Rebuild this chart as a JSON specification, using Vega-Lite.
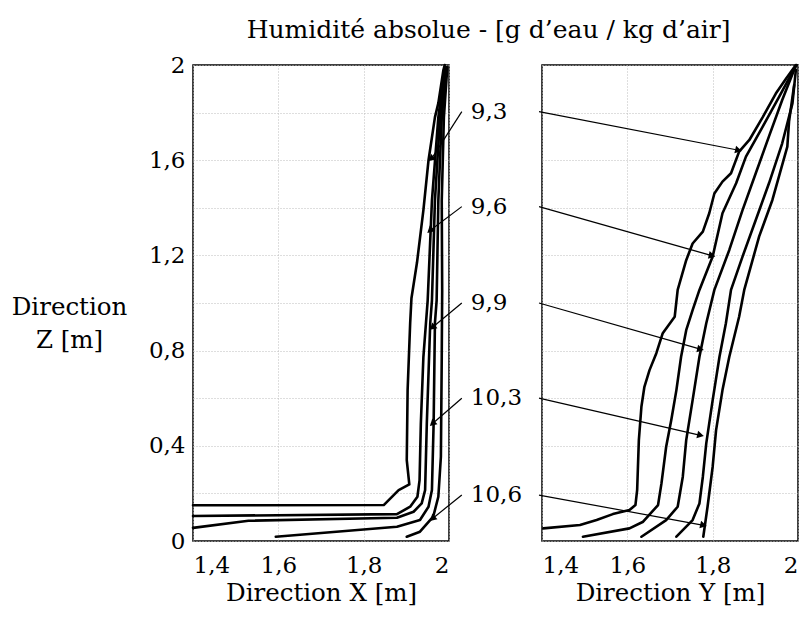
{
  "$schema": "https://vega.github.io/schema/vega-lite/v6.json",
  "padding": {"left": 10, "top": 18, "right": 0, "bottom": 5},
  "title": {"text": "Humidité absolue - [g d’eau / kg d’air]", "font": "DejaVu Serif", "fontSize": 25, "fontWeight": "normal", "color": "black", "anchor": "middle", "offset": 10, "dx": 84},
  "bounds": "flush",
  "spacing": 93,
  "config": {
    "font": "DejaVu Serif",
    "view": {"stroke": "black", "strokeWidth": 1.5},
    "axis": {
      "domain": false, "ticks": false,
      "labelFont": "DejaVu Serif", "labelFontSize": 23, "labelColor": "black",
      "titleFont": "DejaVu Serif", "titleFontSize": 24.5, "titleColor": "black", "titleFontWeight": "normal",
      "gridColor": "#bdbdbd", "gridDash": [1, 2], "gridWidth": 1
    }
  },
  "datasets": {
    "xc": [
      {"c": 1, "x": 1.400, "z": 0.150}, {"c": 1, "x": 1.847, "z": 0.151}, {"c": 1, "x": 1.882, "z": 0.214}, {"c": 1, "x": 1.907, "z": 0.238}, {"c": 1, "x": 1.901, "z": 0.34}, {"c": 1, "x": 1.903, "z": 0.634}, {"c": 1, "x": 1.909, "z": 0.916}, {"c": 1, "x": 1.912, "z": 1.02}, {"c": 1, "x": 1.925, "z": 1.17}, {"c": 1, "x": 1.940, "z": 1.39}, {"c": 1, "x": 1.952, "z": 1.60}, {"c": 1, "x": 1.967, "z": 1.78}, {"c": 1, "x": 1.975, "z": 1.84}, {"c": 1, "x": 1.987, "z": 1.98}, {"c": 1, "x": 1.990, "z": 2.0},
      {"c": 2, "x": 1.400, "z": 0.105}, {"c": 2, "x": 1.878, "z": 0.113}, {"c": 2, "x": 1.909, "z": 0.144}, {"c": 2, "x": 1.926, "z": 0.186}, {"c": 2, "x": 1.931, "z": 0.256}, {"c": 2, "x": 1.934, "z": 0.494}, {"c": 2, "x": 1.940, "z": 0.774}, {"c": 2, "x": 1.950, "z": 1.01}, {"c": 2, "x": 1.960, "z": 1.43}, {"c": 2, "x": 1.975, "z": 1.78}, {"c": 2, "x": 1.990, "z": 1.99},
      {"c": 3, "x": 1.400, "z": 0.055}, {"c": 3, "x": 1.530, "z": 0.085}, {"c": 3, "x": 1.878, "z": 0.098}, {"c": 3, "x": 1.917, "z": 0.123}, {"c": 3, "x": 1.936, "z": 0.158}, {"c": 3, "x": 1.944, "z": 0.214}, {"c": 3, "x": 1.948, "z": 0.494}, {"c": 3, "x": 1.956, "z": 0.915}, {"c": 3, "x": 1.960, "z": 1.01}, {"c": 3, "x": 1.967, "z": 1.43}, {"c": 3, "x": 1.979, "z": 1.78}, {"c": 3, "x": 1.992, "z": 1.99},
      {"c": 4, "x": 1.594, "z": 0.018}, {"c": 4, "x": 1.878, "z": 0.060}, {"c": 4, "x": 1.932, "z": 0.088}, {"c": 4, "x": 1.952, "z": 0.144}, {"c": 4, "x": 1.960, "z": 0.214}, {"c": 4, "x": 1.964, "z": 0.496}, {"c": 4, "x": 1.967, "z": 0.915}, {"c": 4, "x": 1.971, "z": 1.01}, {"c": 4, "x": 1.975, "z": 1.43}, {"c": 4, "x": 1.983, "z": 1.78}, {"c": 4, "x": 1.994, "z": 1.99},
      {"c": 5, "x": 1.901, "z": 0.018}, {"c": 5, "x": 1.932, "z": 0.039}, {"c": 5, "x": 1.963, "z": 0.102}, {"c": 5, "x": 1.975, "z": 0.186}, {"c": 5, "x": 1.981, "z": 0.354}, {"c": 5, "x": 1.983, "z": 0.774}, {"c": 5, "x": 1.984, "z": 1.05}, {"c": 5, "x": 1.983, "z": 1.43}, {"c": 5, "x": 1.988, "z": 1.78}, {"c": 5, "x": 1.996, "z": 1.99}
    ],
    "yc": [
      {"c": 1, "y": 1.403, "z": 0.053}, {"c": 1, "y": 1.489, "z": 0.067}, {"c": 1, "y": 1.528, "z": 0.088}, {"c": 1, "y": 1.566, "z": 0.113}, {"c": 1, "y": 1.605, "z": 0.130}, {"c": 1, "y": 1.619, "z": 0.151}, {"c": 1, "y": 1.623, "z": 0.214}, {"c": 1, "y": 1.627, "z": 0.424}, {"c": 1, "y": 1.633, "z": 0.564}, {"c": 1, "y": 1.640, "z": 0.648}, {"c": 1, "y": 1.652, "z": 0.718}, {"c": 1, "y": 1.668, "z": 0.789}, {"c": 1, "y": 1.683, "z": 0.873}, {"c": 1, "y": 1.711, "z": 0.942}, {"c": 1, "y": 1.718, "z": 1.055}, {"c": 1, "y": 1.738, "z": 1.18}, {"c": 1, "y": 1.753, "z": 1.25}, {"c": 1, "y": 1.777, "z": 1.30}, {"c": 1, "y": 1.792, "z": 1.377}, {"c": 1, "y": 1.804, "z": 1.46}, {"c": 1, "y": 1.823, "z": 1.51}, {"c": 1, "y": 1.843, "z": 1.545}, {"c": 1, "y": 1.862, "z": 1.636}, {"c": 1, "y": 1.886, "z": 1.685}, {"c": 1, "y": 1.917, "z": 1.78}, {"c": 1, "y": 1.948, "z": 1.88}, {"c": 1, "y": 1.971, "z": 1.94}, {"c": 1, "y": 1.995, "z": 2.0},
      {"c": 2, "y": 1.496, "z": 0.018}, {"c": 2, "y": 1.605, "z": 0.053}, {"c": 2, "y": 1.637, "z": 0.081}, {"c": 2, "y": 1.672, "z": 0.151}, {"c": 2, "y": 1.680, "z": 0.242}, {"c": 2, "y": 1.691, "z": 0.396}, {"c": 2, "y": 1.703, "z": 0.508}, {"c": 2, "y": 1.715, "z": 0.634}, {"c": 2, "y": 1.726, "z": 0.774}, {"c": 2, "y": 1.738, "z": 0.886}, {"c": 2, "y": 1.753, "z": 0.97}, {"c": 2, "y": 1.769, "z": 1.055}, {"c": 2, "y": 1.800, "z": 1.195}, {"c": 2, "y": 1.823, "z": 1.377}, {"c": 2, "y": 1.855, "z": 1.503}, {"c": 2, "y": 1.878, "z": 1.615}, {"c": 2, "y": 1.917, "z": 1.74}, {"c": 2, "y": 1.956, "z": 1.867}, {"c": 2, "y": 1.987, "z": 1.97}, {"c": 2, "y": 1.997, "z": 2.0},
      {"c": 3, "y": 1.633, "z": 0.018}, {"c": 3, "y": 1.691, "z": 0.088}, {"c": 3, "y": 1.718, "z": 0.144}, {"c": 3, "y": 1.730, "z": 0.27}, {"c": 3, "y": 1.738, "z": 0.424}, {"c": 3, "y": 1.753, "z": 0.592}, {"c": 3, "y": 1.769, "z": 0.774}, {"c": 3, "y": 1.785, "z": 0.915}, {"c": 3, "y": 1.804, "z": 1.055}, {"c": 3, "y": 1.839, "z": 1.223}, {"c": 3, "y": 1.870, "z": 1.39}, {"c": 3, "y": 1.901, "z": 1.545}, {"c": 3, "y": 1.932, "z": 1.70}, {"c": 3, "y": 1.963, "z": 1.853}, {"c": 3, "y": 1.991, "z": 1.98},
      {"c": 4, "y": 1.715, "z": 0.018}, {"c": 4, "y": 1.753, "z": 0.088}, {"c": 4, "y": 1.769, "z": 0.158}, {"c": 4, "y": 1.777, "z": 0.27}, {"c": 4, "y": 1.785, "z": 0.41}, {"c": 4, "y": 1.800, "z": 0.592}, {"c": 4, "y": 1.816, "z": 0.774}, {"c": 4, "y": 1.831, "z": 0.915}, {"c": 4, "y": 1.843, "z": 1.055}, {"c": 4, "y": 1.870, "z": 1.195}, {"c": 4, "y": 1.901, "z": 1.349}, {"c": 4, "y": 1.932, "z": 1.503}, {"c": 4, "y": 1.963, "z": 1.671}, {"c": 4, "y": 1.987, "z": 1.839}, {"c": 4, "y": 1.995, "z": 1.98},
      {"c": 5, "y": 1.778, "z": 0.018}, {"c": 5, "y": 1.788, "z": 0.144}, {"c": 5, "y": 1.800, "z": 0.312}, {"c": 5, "y": 1.808, "z": 0.466}, {"c": 5, "y": 1.823, "z": 0.634}, {"c": 5, "y": 1.839, "z": 0.774}, {"c": 5, "y": 1.862, "z": 0.942}, {"c": 5, "y": 1.874, "z": 1.055}, {"c": 5, "y": 1.909, "z": 1.28}, {"c": 5, "y": 1.940, "z": 1.433}, {"c": 5, "y": 1.975, "z": 1.657}, {"c": 5, "y": 1.979, "z": 1.762}, {"c": 5, "y": 1.991, "z": 1.916}
    ],
    "la": [
      {"label": "9,3", "x1": 2.030, "z1": 1.804, "x2": 1.960, "z2": 1.609},
      {"label": "9,6", "x1": 2.030, "z1": 1.405, "x2": 1.957, "z2": 1.307},
      {"label": "9,9", "x1": 2.030, "z1": 1.000, "x2": 1.963, "z2": 0.900},
      {"label": "10,3", "x1": 2.030, "z1": 0.600, "x2": 1.963, "z2": 0.496},
      {"label": "10,6", "x1": 2.030, "z1": 0.193, "x2": 1.963, "z2": 0.097}
    ],
    "ra": [
      {"label": "9,3", "y1": 1.393, "z1": 1.804, "y2": 1.858, "z2": 1.643},
      {"label": "9,6", "y1": 1.393, "z1": 1.405, "y2": 1.796, "z2": 1.200},
      {"label": "9,9", "y1": 1.393, "z1": 1.000, "y2": 1.769, "z2": 0.807},
      {"label": "10,3", "y1": 1.393, "z1": 0.600, "y2": 1.769, "z2": 0.445},
      {"label": "10,6", "y1": 1.393, "z1": 0.193, "y2": 1.776, "z2": 0.067}
    ]
  },
  "hconcat": [
    {
      "width": 256, "height": 476,
      "layer": [
        {
          "data": {"name": "xc"},
          "mark": {"type": "line", "color": "black", "strokeWidth": 2.6, "strokeJoin": "round", "strokeCap": "round"},
          "encoding": {
            "x": {"field": "x", "type": "quantitative", "scale": {"domain": [1.4, 2], "nice": false, "zero": false},
                  "axis": {"values": [1.4, 1.6, 1.8, 2], "format": ".1~f", "labelExpr": "replace(datum.label, '.', ',')", "labelPadding": 13, "title": "Direction X [m]", "titlePadding": 4}},
            "y": {"field": "z", "type": "quantitative", "scale": {"domain": [0, 2], "nice": false},
                  "axis": {"values": [0, 0.2, 0.4, 0.6, 0.8, 1, 1.2, 1.4, 1.6, 1.8, 2], "format": ".1~f",
                           "labelExpr": "round(datum.value * 10) % 4 == 0 ? replace(datum.label, '.', ',') : ''",
                           "labelPadding": 8, "title": ["Direction", "Z [m]"], "titleAngle": 0, "titleAlign": "center", "titleBaseline": "middle",
                           "titleX": -124, "titleY": 242, "titleLineHeight": 33}},
            "detail": {"field": "c", "type": "nominal"},
            "order": {"field": "z", "type": "quantitative"}
          }
        },
        {
          "data": {"name": "la"},
          "mark": {"type": "rule", "color": "black", "strokeWidth": 1.2, "clip": false},
          "encoding": {
            "x": {"field": "x1", "type": "quantitative"}, "y": {"field": "z1", "type": "quantitative"},
            "x2": {"field": "x2"}, "y2": {"field": "z2"}
          }
        },
        {
          "data": {"name": "la"},
          "mark": {"type": "point", "shape": "triangle", "filled": true, "size": 60, "angle": 228, "color": "black", "opacity": 1},
          "encoding": {"x": {"field": "x2", "type": "quantitative"}, "y": {"field": "z2", "type": "quantitative"}}
        },
        {
          "data": {"name": "la"},
          "mark": {"type": "text", "align": "left", "baseline": "middle", "dx": 9, "fontSize": 23, "color": "black", "clip": false},
          "encoding": {"x": {"field": "x1", "type": "quantitative"}, "y": {"field": "z1", "type": "quantitative"}, "text": {"field": "label"}}
        }
      ]
    },
    {
      "width": 256, "height": 476,
      "layer": [
        {
          "data": {"name": "yc"},
          "mark": {"type": "line", "color": "black", "strokeWidth": 2.6, "strokeJoin": "round", "strokeCap": "round"},
          "encoding": {
            "x": {"field": "y", "type": "quantitative", "scale": {"domain": [1.4, 2], "nice": false, "zero": false},
                  "axis": {"values": [1.4, 1.6, 1.8, 2], "format": ".1~f", "labelExpr": "replace(datum.label, '.', ',')", "labelPadding": 13, "title": "Direction Y [m]", "titlePadding": 4}},
            "y": {"field": "z", "type": "quantitative", "scale": {"domain": [0, 2], "nice": false},
                  "axis": {"values": [0, 0.2, 0.4, 0.6, 0.8, 1, 1.2, 1.4, 1.6, 1.8, 2], "labels": false, "title": null}},
            "detail": {"field": "c", "type": "nominal"},
            "order": {"field": "z", "type": "quantitative"}
          }
        },
        {
          "data": {"name": "ra"},
          "mark": {"type": "rule", "color": "black", "strokeWidth": 1.2, "clip": false},
          "encoding": {
            "x": {"field": "y1", "type": "quantitative"}, "y": {"field": "z1", "type": "quantitative"},
            "x2": {"field": "y2"}, "y2": {"field": "z2"}
          }
        },
        {
          "data": {"name": "ra"},
          "mark": {"type": "point", "shape": "triangle", "filled": true, "size": 60, "angle": 103, "color": "black", "opacity": 1},
          "encoding": {"x": {"field": "y2", "type": "quantitative"}, "y": {"field": "z2", "type": "quantitative"}}
        }
      ]
    }
  ]
}
